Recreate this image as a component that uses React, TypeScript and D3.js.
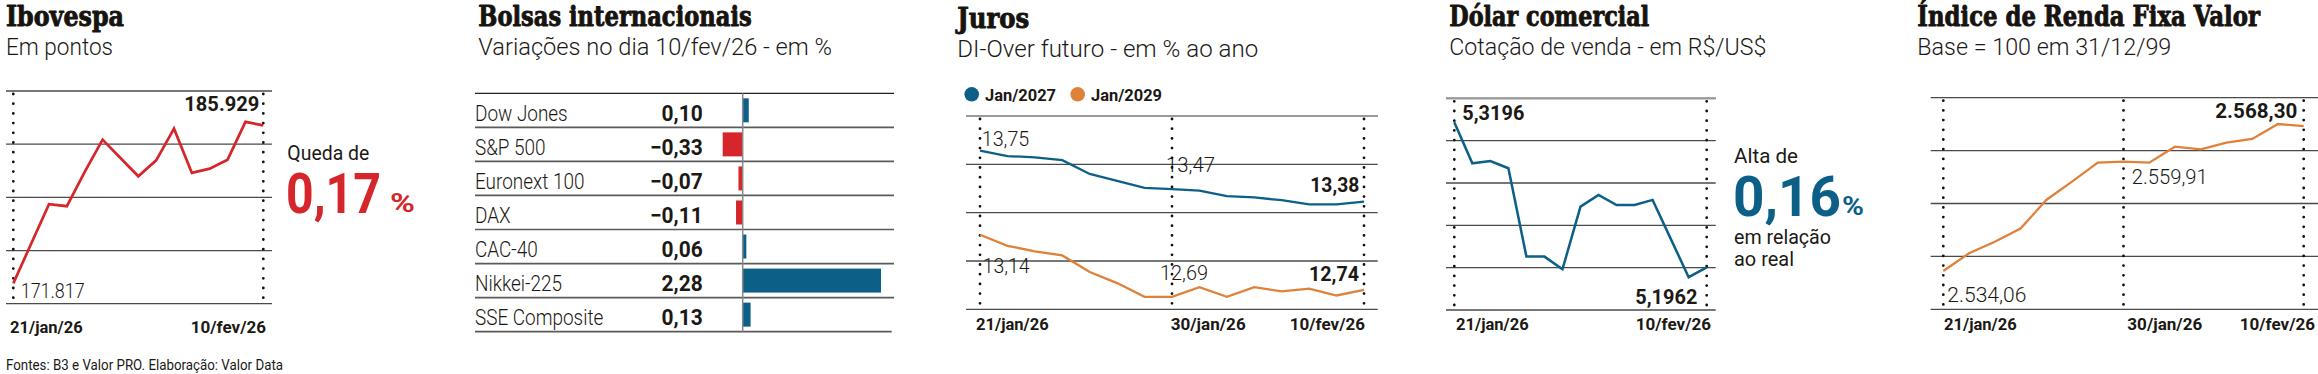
import React, { useEffect, useRef } from 'react';
import * as d3 from 'd3';

// trading days shown on every line chart
const dates = ['21/jan', '22/jan', '23/jan', '26/jan', '27/jan', '28/jan', '29/jan', '30/jan',
  '02/fev', '03/fev', '04/fev', '05/fev', '06/fev', '09/fev', '10/fev'];

const ibovespa = [171817, 175352, 178888, 178710, 181770, 184652, 183018, 181384, 182810,
  185632, 181681, 182067, 182869, 186246, 185929];

const bolsasNames = ['Dow Jones', 'S&P 500', 'Euronext 100', 'DAX', 'CAC-40', 'Nikkei-225', 'SSE Composite'];
const bolsasValues = [0.10, -0.33, -0.07, -0.11, 0.06, 2.28, 0.13];

const juros2027 = [13.75, 13.71, 13.70, 13.68, 13.58, 13.53, 13.48, 13.47, 13.46, 13.42, 13.41,
  13.39, 13.36, 13.36, 13.38];
const juros2029 = [13.14, 13.06, 13.02, 12.99, 12.87, 12.79, 12.69, 12.69, 12.76, 12.69, 12.76,
  12.73, 12.75, 12.70, 12.74];

const dolar = [5.3196, 5.2847, 5.2867, 5.2805, 5.2054, 5.2054, 5.1946, 5.2479, 5.2578, 5.2493,
  5.2493, 5.2536, 5.2207, 5.1879, 5.1962];

const rendaFixa = [2534.06, 2538.23, 2540.98, 2544.06, 2550.83, 2555.16, 2559.65, 2559.91,
  2559.65, 2563.43, 2562.80, 2564.37, 2565.24, 2568.78, 2568.30];

const INK = '#1c1915';
const RED = '#d5262b';
const BLUE = '#0c5f87';
const ORANGE = '#e0813a';
const GRID = '#4a4a4a';
const SANS = "Roboto, 'Noto Sans', sans-serif";
const SERIF = "'DejaVu Serif', serif";

type G = d3.Selection<SVGGElement, unknown, null, undefined>;

interface TextOpts {
  size: number;
  weight?: number;
  anchor?: string;
  fill?: string;
  family?: string;
  w?: number;
  k?: number;
}

function label(g: G, x: number, y: number, text: string, o: TextOpts) {
  const t = g.append('text')
    .attr('x', x).attr('y', y)
    .attr('font-family', o.family ?? SANS)
    .attr('font-size', o.size)
    .attr('font-weight', o.weight ?? 300)
    .attr('fill', o.fill ?? INK)
    .attr('text-anchor', o.anchor ?? 'start')
    .text(text);
  const natural = (t.node() as SVGTextElement).getComputedTextLength();
  t.attr('textLength', o.w ?? natural * (o.k ?? 1)).attr('lengthAdjust', 'spacingAndGlyphs');
  return t;
}

function header(g: G, x: number, title: string, tw: number, sub: string, sw: number, dy = 0) {
  label(g, x, 26 + dy, title, { size: 27, weight: 700, family: SERIF, w: tw, fill: '#17130f' })
    .attr('stroke', '#17130f').attr('stroke-width', 0.9).attr('stroke-linejoin', 'round');
  label(g, x, 55 + dy, sub, { size: 24, weight: 300, w: sw });
}

function whiteBehind(g: G, t: d3.Selection<SVGTextElement, unknown, null, undefined>, pad = 2) {
  const b = (t.node() as SVGTextElement).getBBox();
  g.insert('rect', 'text')
    .attr('x', b.x - pad).attr('y', b.y + 2)
    .attr('width', b.width + pad * 2).attr('height', b.height - 4)
    .attr('fill', '#fff');
}

interface LineChart {
  x0: number; x1: number; px0: number; px1: number;
  top: number; bottom: number;
  domain: [number, number]; steps: number;
  dotted: string[];
}

function frame(g: G, c: LineChart) {
  const x = d3.scalePoint<string>().domain(dates).range([c.px0, c.px1]);
  const y = d3.scaleLinear().domain(c.domain).range([c.bottom, c.top]);
  const ticks = d3.range(c.steps + 1).map(i => c.domain[0] + (i * (c.domain[1] - c.domain[0])) / c.steps);
  g.append('g').selectAll('line').data(ticks).join('line')
    .attr('x1', c.x0).attr('x2', c.x1)
    .attr('y1', d => y(d)).attr('y2', d => y(d))
    .attr('stroke', GRID).attr('stroke-width', 1.3);
  return { x, y };
}

function dots(g: G, x: d3.ScalePoint<string>, c: LineChart) {
  g.append('g').selectAll('line').data(c.dotted).join('line')
    .attr('x1', d => x(d)!).attr('x2', d => x(d)!)
    .attr('y1', c.top + 3).attr('y2', c.bottom)
    .attr('stroke', '#111').attr('stroke-width', 2.8)
    .attr('stroke-linecap', 'round').attr('stroke-dasharray', '0 9.7');
}

function series(g: G, x: d3.ScalePoint<string>, y: d3.ScaleLinear<number, number>, values: number[], color: string, w: number) {
  const line = d3.line<number>().x((_, i) => x(dates[i])!).y(d => y(d)).curve(d3.curveLinear);
  g.append('path').datum(values).attr('d', line)
    .attr('fill', 'none').attr('stroke', color).attr('stroke-width', w)
    .attr('stroke-linejoin', 'miter').attr('stroke-linecap', 'butt');
}

const fmtPt = (v: number) => d3.format(',.0f')(v).replace(/,/g, '.');
const fmtBr = (v: number, d: number) => {
  const s = d3.format(`,.${d}f`)(v);
  return s.replace(/,/g, '#').replace('.', ',').replace(/#/g, '.');
};

export default function App() {
  const ref = useRef<SVGSVGElement>(null);

  useEffect(() => {
    if (!ref.current) return;
    const svg = d3.select(ref.current);
    svg.selectAll('*').remove();
    const root = svg.append('g') as unknown as G;
    const last = dates.length - 1;

    // ---------- Ibovespa ----------
    {
      const g = root.append('g') as G;
      header(g, 6, 'Ibovespa', 118, 'Em pontos', 107);
      const c: LineChart = { x0: 6, x1: 272, px0: 13.3, px1: 263.3, top: 91, bottom: 303.7,
        domain: [170000, 189000], steps: 4, dotted: [dates[0], dates[last]] };
      const { x, y } = frame(g, c);
      dots(g, x, c);
      series(g, x, y, ibovespa, RED, 2.7);
      label(g, 259.3, 111, fmtPt(ibovespa[last]), { size: 20, weight: 700, anchor: 'end', w: 75 });
      label(g, 20.7, 298.3, fmtPt(ibovespa[0]), { size: 20, w: 64 });
      label(g, 10, 333, '21/jan/26', { size: 16.5, weight: 700, w: 72.7 });
      label(g, 266, 333, '10/fev/26', { size: 16.5, weight: 700, anchor: 'end', w: 75.3 });
      label(g, 287.3, 160, 'Queda de', { size: 21, weight: 400, w: 82 });
      label(g, 286, 213.3, '0,17', { size: 56, weight: 700, fill: RED, w: 95 });
      label(g, 390, 212, '%', { size: 26, weight: 700, fill: RED, w: 25 });
      label(g, 6, 370, 'Fontes: B3 e Valor PRO. Elaboração: Valor Data', { size: 14, weight: 400, w: 277 });
    }

    // ---------- Bolsas internacionais ----------
    {
      const g = root.append('g') as G;
      header(g, 478.3, 'Bolsas internacionais', 273.4, 'Variações no dia 10/fev/26 - em %', 353.7);
      const top = 93.3;
      const rowH = 34.05;
      const bx = d3.scaleLinear().domain([0, 2.28]).range([742.7, 881]);
      const band = d3.scaleBand<string>().domain(bolsasNames).range([top, top + rowH * bolsasNames.length]).paddingInner(0);
      const rows = d3.range(bolsasNames.length + 1);
      g.append('g').selectAll('line').data(rows).join('line')
        .attr('x1', 475).attr('x2', (d) => (d === bolsasNames.length ? 891.7 : 894))
        .attr('y1', d => top + d * rowH).attr('y2', d => top + d * rowH)
        .attr('stroke', d => (d === 0 ? '#222' : '#5a5a5a')).attr('stroke-width', d => (d === 0 ? 1.3 : 1.7));
      g.append('g').selectAll('rect').data(bolsasValues).join('rect')
        .attr('x', d => Math.min(bx(0), bx(d)))
        .attr('width', d => Math.abs(bx(d) - bx(0)))
        .attr('y', (_, i) => band(bolsasNames[i])! + (rowH - 24) / 2)
        .attr('height', 24)
        .attr('fill', d => (d < 0 ? RED : BLUE));
      g.append('line').attr('x1', bx(0)).attr('x2', bx(0)).attr('y1', top).attr('y2', top + rowH * 7)
        .attr('stroke', '#888').attr('stroke-width', 1.5);
      bolsasNames.forEach((n, i) => {
        const cy = band(n)! + rowH / 2;
        label(g, 475, cy + 10.4, n, { size: 22, weight: 300, k: 0.86 });
        label(g, 702.7, cy + 10.4, fmtBr(bolsasValues[i], 2), { size: 22, weight: 700, anchor: 'end', k: 0.95 });
      });
    }

    // ---------- Juros ----------
    {
      const g = root.append('g') as G;
      header(g, 957.3, 'Juros', 72, 'DI-Over futuro - em % ao ano', 301, 2);
      g.append('circle').attr('cx', 971.7).attr('cy', 94.3).attr('r', 7.3).attr('fill', BLUE);
      label(g, 985, 100.5, 'Jan/2027', { size: 17, weight: 700, w: 71 });
      g.append('circle').attr('cx', 1077.7).attr('cy', 94.3).attr('r', 7.3).attr('fill', ORANGE);
      label(g, 1091, 100.5, 'Jan/2029', { size: 17, weight: 700, w: 71 });
      const c: LineChart = { x0: 966, x1: 1377.7, px0: 980, px1: 1364, top: 116, bottom: 309.3,
        domain: [12.6, 14.0], steps: 4, dotted: [dates[0], dates[7], dates[last]] };
      const { x, y } = frame(g, c);
      g.append('line').attr('x1', c.x0).attr('x2', c.x1).attr('y1', c.top).attr('y2', c.top)
        .attr('stroke', '#999').attr('stroke-width', 2.2);
      const t1 = label(g, 1166, 172.3, fmtBr(juros2027[7], 2), { size: 20, w: 49 });
      whiteBehind(g, t1, 4);
      const t2 = label(g, 982.7, 272.7, fmtBr(juros2029[0], 2), { size: 20, w: 47 });
      whiteBehind(g, t2, 4);
      dots(g, x, c);
      series(g, x, y, juros2027, BLUE, 2.3);
      series(g, x, y, juros2029, ORANGE, 2.3);
      label(g, 981.7, 145.7, fmtBr(juros2027[0], 2), { size: 20, w: 47.6 });
      label(g, 1359.3, 191.7, fmtBr(juros2027[last], 2), { size: 20, weight: 700, anchor: 'end', w: 49 });
      label(g, 1160, 280, fmtBr(juros2029[7], 2), { size: 20, w: 48 });
      label(g, 1359, 280.7, fmtBr(juros2029[last], 2), { size: 20, weight: 700, anchor: 'end', w: 50 });
      label(g, 976, 330, '21/jan/26', { size: 16.5, weight: 700, w: 72.7 });
      label(g, 1170.7, 330, '30/jan/26', { size: 16.5, weight: 700, w: 75 });
      label(g, 1365, 330, '10/fev/26', { size: 16.5, weight: 700, anchor: 'end', w: 75.3 });
    }

    // ---------- Dólar comercial ----------
    {
      const g = root.append('g') as G;
      header(g, 1449.3, 'Dólar comercial', 200, 'Cotação de venda - em R$/US$', 317);
      const c: LineChart = { x0: 1446, x1: 1715.7, px0: 1454.3, px1: 1706.7, top: 98.3, bottom: 310,
        domain: [5.16, 5.34], steps: 5, dotted: [dates[0], dates[last]] };
      const { x, y } = frame(g, c);
      g.append('line').attr('x1', c.x0).attr('x2', c.x1).attr('y1', c.top).attr('y2', c.top)
        .attr('stroke', '#999').attr('stroke-width', 2.2);
      dots(g, x, c);
      series(g, x, y, dolar, BLUE, 2.5);
      label(g, 1462.3, 120, fmtBr(dolar[0], 4), { size: 20, weight: 700, w: 62 });
      label(g, 1697.3, 304, fmtBr(dolar[last], 4), { size: 20, weight: 700, anchor: 'end', w: 62 });
      label(g, 1456, 330, '21/jan/26', { size: 16.5, weight: 700, w: 72.7 });
      label(g, 1711, 330, '10/fev/26', { size: 16.5, weight: 700, anchor: 'end', w: 75.3 });
      label(g, 1734, 163.3, 'Alta de', { size: 21, weight: 400, w: 64 });
      label(g, 1733, 216, '0,16', { size: 56, weight: 700, fill: BLUE, w: 108 });
      label(g, 1842, 215, '%', { size: 26, weight: 700, fill: BLUE, w: 22 });
      label(g, 1734, 244, 'em relação', { size: 21, weight: 400, w: 97 });
      label(g, 1734, 265.5, 'ao real', { size: 21, weight: 400, w: 60 });
    }

    // ---------- Índice de Renda Fixa Valor ----------
    {
      const g = root.append('g') as G;
      header(g, 1917.3, 'Índice de Renda Fixa Valor', 342.7, 'Base = 100 em 31/12/99', 254);
      const c: LineChart = { x0: 1930.7, x1: 2318, px0: 1943.3, px1: 2303.7, top: 97.7, bottom: 309.3,
        domain: [2525, 2575], steps: 4, dotted: [dates[0], dates[7], dates[last]] };
      const { x, y } = frame(g, c);
      dots(g, x, c);
      series(g, x, y, rendaFixa, ORANGE, 2.3);
      label(g, 2297.3, 118.3, fmtBr(rendaFixa[last], 2), { size: 20, weight: 700, anchor: 'end', w: 82 });
      label(g, 2131.7, 184.3, fmtBr(rendaFixa[7], 2), { size: 20, w: 76 });
      label(g, 1947.3, 301.7, fmtBr(rendaFixa[0], 2), { size: 20, w: 79 });
      label(g, 1944, 330, '21/jan/26', { size: 16.5, weight: 700, w: 72.7 });
      label(g, 2127.3, 330, '30/jan/26', { size: 16.5, weight: 700, w: 75 });
      label(g, 2315, 330, '10/fev/26', { size: 16.5, weight: 700, anchor: 'end', w: 75.3 });
    }
  }, []);

  return (
    <svg
      ref={ref}
      width={2318}
      height={374}
      style={{ position: 'absolute', left: 0, top: 0, background: '#fff' }}
    />
  );
}
